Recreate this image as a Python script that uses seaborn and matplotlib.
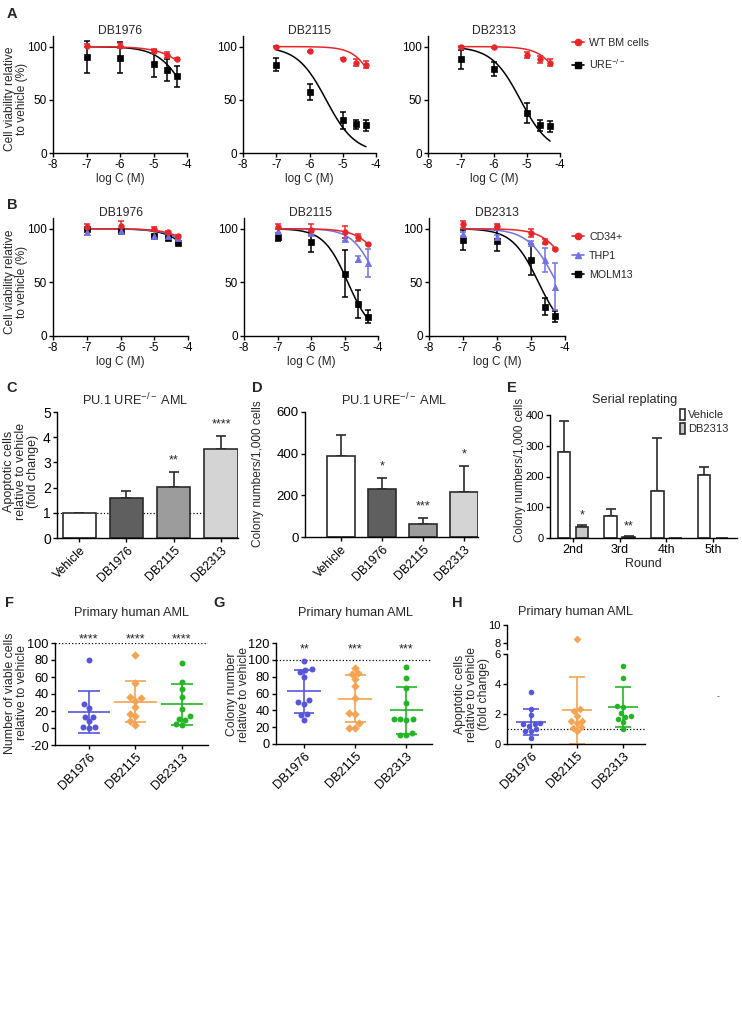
import numpy as np
import pandas as pd
import matplotlib
matplotlib.use("Agg")
import matplotlib.pyplot as plt
import seaborn as sns
from matplotlib.lines import Line2D

sns.set_theme(style="ticks")
plt.rcParams['font.family'] = ['Liberation Sans', 'DejaVu Sans']
plt.rcParams['mathtext.fontset'] = 'custom'
plt.rcParams['mathtext.rm'] = 'Liberation Sans'
plt.rcParams['mathtext.it'] = 'Liberation Sans:italic'
plt.rcParams['mathtext.bf'] = 'Liberation Sans:bold'
plt.rcParams['axes.unicode_minus'] = False
plt.rcParams['axes.linewidth'] = 1.0
plt.rcParams['axes.edgecolor'] = 'black'

# ---------------- data ----------------
log_c = [-7, -6, -5, -4.6, -4.3]
drugs = ["DB1976", "DB2115", "DB2313"]

# A: WT BM cells vs URE-/- (mean, error, fitted IC50 / hill slope)
a_wt_mean = [[101, 101, 96, 92, 88], [100, 95.5, 88.5, 85, 83], [100, 99.5, 92, 88, 85]]
a_wt_err = [[1.5, 2, 2, 2.5, 1], [0.5, 0.5, 0.5, 3, 3.5], [0.5, 0.5, 3, 3, 3.5]]
a_ure_mean = [[90, 89.5, 84, 78, 72], [83, 57.5, 31, 27, 26], [88, 79, 37.5, 26, 25]]
a_ure_err = [[15, 14.5, 13, 10, 10], [6, 7.5, 8, 4, 5], [9, 7, 9.5, 5, 5]]
a_wt_ic50 = [-3.4, -3.84, -3.7]
a_wt_hill = [0.9, 1.3, 1.2]
a_ure_ic50 = [-3.9, -5.5, -5.2]
a_ure_hill = [1.0, 1.0, 1.0]

# B: CD34+, THP1, MOLM13
b_cd34_mean = [[102, 103, 100, 97, 93], [102, 99, 97, 92, 85.5], [104, 103, 96, 88, 81]]
b_cd34_err = [[2, 4, 1.5, 1, 1], [2.5, 5, 5.5, 3, 1], [3, 1, 3.5, 2, 1]]
b_thp1_mean = [[97, 97.5, 93.5, 93, 91], [98, 96, 90, 72, 68], [95, 92, 87, 71, 46]]
b_thp1_err = [[3, 2, 1.5, 1, 1], [2, 2, 1.5, 3, 13], [2, 2, 1.5, 11, 22]]
b_molm_mean = [[100, 98, 93.5, 91, 87], [92.5, 87.5, 58, 30, 18], [89.5, 89, 71, 27.5, 18.5]]
b_molm_err = [[1, 1, 1, 1, 1], [3.5, 9.5, 22, 13, 6], [9.5, 10, 14.5, 7.5, 5]]
b_cd34_ic50 = [-3.2, -3.6, -3.7]
b_cd34_hill = [1.0, 1.1, 1.1]
b_thp1_ic50 = [-3.3, -4.0, -4.25]
b_thp1_hill = [1.0, 1.2, 1.05]
b_molm_ic50 = [-3.4, -4.9, -4.78]
b_molm_hill = [1.0, 1.2, 1.12]

# C / D: PU.1 URE-/- AML
bar_groups = ["Vehicle", "DB1976", "DB2115", "DB2313"]
c_mean = [1.0, 1.58, 2.02, 3.52]
c_err = [0.0, 0.27, 0.6, 0.53]
c_stars = ["", "", "**", "****"]
d_mean = [390, 232, 62, 215]
d_err = [100, 51, 30, 125]
d_stars = ["", "*", "***", "*"]

# E: serial replating
rounds = ["2nd", "3rd", "4th", "5th"]
e_vehicle = [280, 70, 153, 206]
e_vehicle_err = [100, 23, 172, 24]
e_db2313 = [35, 3, 0, 0]
e_db2313_err = [6, 2, 0, 0]
e_stars = ["*", "**", "", ""]

# F: viable cells (%)
f_db1976 = [80, 27.8, 23, 13, 13, 8, 1.2, 0.4, 1.2]
f_db2115 = [86, 53, 36, 35, 32, 25, 17, 14, 8, 4]
f_db2313 = [76, 54, 46, 36, 22, 14, 11, 10, 5, 4]
f_stars = ["****", "****", "****"]
# G: colony number (%)
g_db1976 = [99, 89, 88, 85, 80, 52, 50, 48, 36, 35, 29]
g_db2115 = [90, 84, 83, 77, 69, 55, 37, 36, 25, 19, 19]
g_db2313 = [92, 78, 66, 49, 30, 30, 30, 29, 13, 11, 11]
g_stars = ["**", "***", "***"]
# H: apoptotic cells (fold change)
h_db1976 = [3.47, 2.33, 1.93, 1.4, 1.35, 1.32, 1.23, 1.0, 0.9, 0.88, 0.4]
h_db2115 = [8.5, 2.33, 2.2, 1.87, 1.54, 1.54, 1.38, 1.12, 1.1, 0.84]
h_db2313 = [5.2, 4.42, 2.53, 2.48, 2.09, 1.87, 1.8, 1.67, 1.45, 1.0]

RED = "#E8262A"
LBLUE = "#7272E6"
BLUE = "#5656DC"
ORANGE = "#F4A452"
GREEN = "#23B523"
EDGE = "#2b2b2b"
bar_colors = ["white", "#5f5f5f", "#9c9c9c", "#d4d4d4"]

W, H = 742, 1030
fig = plt.figure(figsize=(W / 100, H / 100), dpi=100)


def px_ax(l, t, r, b, fs=8.5):
    ax = fig.add_axes([l / W, 1 - b / H, (r - l) / W, (b - t) / H])
    sns.despine(ax=ax)
    ax.tick_params(length=3, width=1, pad=1.5, colors="black", labelsize=fs)
    ax.set_facecolor("none")
    return ax


def ftext(x, y, s, **kw):
    kw.setdefault("ha", "center")
    kw.setdefault("va", "center")
    fig.text(x / W, 1 - y / H, s, **kw)


def hill_curve(ic50, hill):
    xs = np.linspace(log_c[0], log_c[-1], 120)
    return xs, 100 / (1 + 10 ** ((xs - ic50) * hill))


def dose_panel(ax, series, k):
    for color, marker, size, mean, err, ic50, hill in series:
        xs, ys = hill_curve(ic50[k], hill[k])
        sns.lineplot(x=xs, y=ys, color=color, lw=1.1, ax=ax)
        ax.errorbar(log_c, mean[k], yerr=err[k], fmt="none", ecolor=color,
                    capsize=2.3, elinewidth=1.1, capthick=1.1)
        sns.scatterplot(x=log_c, y=mean[k], color=color, marker=marker, s=size,
                        edgecolor=color, linewidth=0.5, ax=ax, zorder=4)
    ax.set_xlim(-8, -4)
    ax.set_ylim(0, 110)
    ax.set_xticks([-8, -7, -6, -5, -4])
    ax.set_yticks([0, 50, 100])
    ax.set_xlabel("log C (M)", fontsize=8.5, labelpad=1)
    ax.set_ylabel("")


# ---------------- A ----------------
a_boxes = [(53, 36, 187, 153), (243, 36, 376, 153), (428, 36, 560, 153)]
a_series = [("black", "s", 20, a_ure_mean, a_ure_err, a_ure_ic50, a_ure_hill),
            (RED, "o", 16, a_wt_mean, a_wt_err, a_wt_ic50, a_wt_hill)]
for k, box in enumerate(a_boxes):
    ax = px_ax(*box)
    dose_panel(ax, a_series, k)
    ftext((box[0] + box[2]) / 2, 31, drugs[k], fontsize=8.7)
ftext(16, 99, "Cell viability relative\nto vehicle (%)", rotation=90, fontsize=8.6, linespacing=1.1)
fig.legend(handles=[Line2D([], [], color=RED, marker="o", ms=4.5, lw=1.2),
                    Line2D([], [], color="black", marker="s", ms=4.5, lw=1.2)],
           labels=["WT BM cells", "URE$^{-/-}$"], loc="upper left",
           bbox_to_anchor=(572 / W, 1 - 38 / H), frameon=False, fontsize=7.7,
           handlelength=1.1, handletextpad=0.5, labelspacing=0.85, borderpad=0, borderaxespad=0)

# ---------------- B ----------------
b_boxes = [(53, 218, 188, 336), (244, 218, 378, 336), (429, 218, 565, 336)]
b_series = [("black", "s", 20, b_molm_mean, b_molm_err, b_molm_ic50, b_molm_hill),
            (LBLUE, "^", 20, b_thp1_mean, b_thp1_err, b_thp1_ic50, b_thp1_hill),
            (RED, "o", 16, b_cd34_mean, b_cd34_err, b_cd34_ic50, b_cd34_hill)]
for k, box in enumerate(b_boxes):
    ax = px_ax(*box)
    dose_panel(ax, b_series, k)
    ftext((box[0] + box[2]) / 2, 213, drugs[k], fontsize=8.7)
ftext(16, 282, "Cell viability relative\nto vehicle (%)", rotation=90, fontsize=8.6, linespacing=1.1)
fig.legend(handles=[Line2D([], [], color=RED, marker="o", ms=4.5, lw=1.2),
                    Line2D([], [], color=LBLUE, marker="^", ms=4.5, lw=1.2),
                    Line2D([], [], color="black", marker="s", ms=4.5, lw=1.2)],
           labels=["CD34+", "THP1", "MOLM13"], loc="upper left",
           bbox_to_anchor=(572 / W, 1 - 232 / H), frameon=False, fontsize=7.7,
           handlelength=1.1, handletextpad=0.5, labelspacing=0.85, borderpad=0, borderaxespad=0)


def bar_panel(ax, mean, err, stars):
    df = pd.DataFrame({"group": bar_groups, "value": mean})
    sns.barplot(data=df, x="group", y="value", hue="group", palette=bar_colors,
                edgecolor=EDGE, linewidth=1.2, width=0.7, legend=False, ax=ax, zorder=2)
    pos = np.arange(len(mean))
    ax.errorbar(pos, mean, yerr=[np.zeros(len(err)), err], fmt="none", ecolor=EDGE,
                capsize=3.5, elinewidth=1.2, capthick=1.2, zorder=1.5)
    for p, m, e, s in zip(pos, mean, err, stars):
        if s:
            ax.annotate(s, (p, m + e), xytext=(0, 4), textcoords="offset points",
                        ha="center", va="bottom", fontsize=9)
    ax.set_xlabel("")
    ax.set_ylabel("")
    ax.tick_params(axis="x", labelrotation=45, labelsize=8.8)
    for lab in ax.get_xticklabels():
        lab.set_ha("right")
        lab.set_rotation_mode("anchor")


# ---------------- C ----------------
ax = px_ax(57, 412, 238, 538, fs=10)
ax.axhline(1, ls=":", color="black", lw=0.9, zorder=0.5)
bar_panel(ax, c_mean, c_err, c_stars)
ax.set_ylim(0, 5)
ax.set_yticks([0, 1, 2, 3, 4, 5])
ax.set_xlim(-0.47, 3.36)
ftext(135, 400, "PU.1 URE$^{-/-}$ AML", fontsize=9.2)
ftext(21, 471, "Apoptotic cells\nrelative to vehicle\n(fold change)", rotation=90, fontsize=9, linespacing=1.0)

# ---------------- D ----------------
ax = px_ax(305, 412, 478, 537, fs=9.5)
bar_panel(ax, d_mean, d_err, d_stars)
ax.set_ylim(0, 600)
ax.set_yticks([0, 200, 400, 600])
ax.set_xlim(-0.88, 3.34)
ftext(394, 400, "PU.1 URE$^{-/-}$ AML", fontsize=9.2)
ftext(258, 474, "Colony numbers/1,000 cells", rotation=90, fontsize=8.6)

# ---------------- E ----------------
ax = px_ax(550, 415, 737, 538, fs=8)
e_df = pd.DataFrame({"round": rounds * 2,
                     "treatment": ["Vehicle"] * len(rounds) + ["DB2313"] * len(rounds),
                     "value": e_vehicle + e_db2313})
sns.barplot(data=e_df, x="round", y="value", hue="treatment", palette=["white", "#c8c8c8"],
            edgecolor=EDGE, linewidth=1.2, width=0.77, gap=0.3, ax=ax, zorder=2)
for cont, errs in zip(ax.containers[:2], [e_vehicle_err, e_db2313_err]):
    xs = [b.get_x() + b.get_width() / 2 for b in cont]
    hs = [b.get_height() for b in cont]
    keep = [i for i, e in enumerate(errs) if e > 0]
    ax.errorbar([xs[i] for i in keep], [hs[i] for i in keep],
                yerr=[[0] * len(keep), [errs[i] for i in keep]], fmt="none", ecolor=EDGE,
                capsize=3.5, elinewidth=1.2, capthick=1.2, zorder=1.5)
xs_db = [b.get_x() + b.get_width() / 2 for b in ax.containers[1]]
for x, m, e, s in zip(xs_db, e_db2313, e_db2313_err, e_stars):
    if s:
        ax.annotate(s, (x, m + e), xytext=(0, 3), textcoords="offset points",
                    ha="center", va="bottom", fontsize=9)
ax.set_ylim(0, 400)
ax.set_yticks([0, 100, 200, 300, 400])
ax.set_xlim(-0.49, 3.51)
ax.set_ylabel("")
ax.set_xlabel("Round", fontsize=9, labelpad=1)
ax.tick_params(axis="x", labelsize=9)
ax.legend(loc="upper left", bbox_to_anchor=((680 - 550) / 187, 1 + (415 - 409) / 123),
          frameon=False, fontsize=8, handlelength=0.45, handleheight=1.1,
          handletextpad=0.3, labelspacing=0.25, borderpad=0, borderaxespad=0)
ftext(635, 400, "Serial replating", fontsize=9.2)
ftext(520, 470, "Colony numbers/1,000 cells", rotation=90, fontsize=8.4)


def dot_panel(ax, groups, mean_half, cap_half, size):
    for i, (vals, color, marker) in enumerate(groups):
        sns.swarmplot(x=[drugs[i]] * len(vals), y=vals, order=drugs, color=color,
                      marker=marker, size=size, linewidth=0, ax=ax, zorder=3)
        m, s = np.mean(vals), np.std(vals, ddof=1)
        ax.hlines(m, i - mean_half, i + mean_half, color=color, lw=1.2, zorder=2)
        ax.vlines(i, m - s, m + s, color=color, lw=1.2, zorder=2)
        ax.hlines([m - s, m + s], i - cap_half, i + cap_half, color=color, lw=1.2, zorder=2)
    ax.set_xlabel("")
    ax.set_ylabel("")
    ax.tick_params(axis="x", labelrotation=45, labelsize=9.2)
    for lab in ax.get_xticklabels():
        lab.set_ha("right")
        lab.set_rotation_mode("anchor")


# ---------------- F ----------------
ax = px_ax(55, 643, 208, 745, fs=9.2)
ax.axhline(100, ls=":", color="black", lw=0.9, zorder=1)
dot_panel(ax, [(f_db1976, BLUE, "o"), (f_db2115, ORANGE, "D"), (f_db2313, GREEN, "o")], 0.46, 0.23, 4.3)
ax.set_ylim(-20, 100)
ax.set_yticks(np.arange(-20, 101, 20))
ax.set_xlim(-0.73, 2.56)
for i, s in enumerate(f_stars):
    ax.text(i, 101, s, ha="center", va="baseline", fontsize=9, clip_on=False)
ftext(132, 613, "Primary human AML", fontsize=9.2)
ftext(16, 693, "Number of viable cells\nrelative to vehicle", rotation=90, fontsize=8.8, linespacing=1.05)

# ---------------- G ----------------
ax = px_ax(276, 643, 432, 744, fs=9.2)
ax.axhline(100, ls=":", color="black", lw=0.9, zorder=1)
dot_panel(ax, [(g_db1976, BLUE, "o"), (g_db2115, ORANGE, "D"), (g_db2313, GREEN, "o")], 0.33, 0.2, 4.3)
ax.set_ylim(0, 120)
ax.set_yticks(np.arange(0, 121, 20))
ax.set_xlim(-0.55, 2.5)
for i, s in enumerate(g_stars):
    ax.text(i, 109, s, ha="center", va="baseline", fontsize=9, clip_on=False)
ftext(356, 613, "Primary human AML", fontsize=9.2)
ftext(238, 694, "Colony number\nrelative to vehicle", rotation=90, fontsize=8.8, linespacing=1.05)

# ---------------- H (broken axis) ----------------
h_groups = [(h_db1976, BLUE, "o"), (h_db2115, ORANGE, "D"), (h_db2313, GREEN, "o")]
ax_lo = px_ax(507, 654, 645, 744, fs=8)
ax_lo.axhline(1, ls=":", color="black", lw=0.9, zorder=1)
dot_panel(ax_lo, h_groups, 0.33, 0.18, 4.0)
ax_lo.set_ylim(0, 6)
ax_lo.set_yticks([0, 2, 4, 6])
ax_lo.set_xlim(-0.52, 2.48)

ax_hi = px_ax(507, 625, 645, 649, fs=8)
for i, (vals, color, marker) in enumerate(h_groups):
    sns.swarmplot(x=[drugs[i]] * len(vals), y=vals, order=drugs, color=color,
                  marker=marker, size=4.0, linewidth=0, ax=ax_hi, zorder=3)
ax_hi.set_ylim(7.4, 10)
ax_hi.set_yticks([8, 10])
ax_hi.set_xlim(-0.52, 2.48)
ax_hi.spines["bottom"].set_visible(False)
ax_hi.tick_params(axis="x", bottom=False, labelbottom=False)
ax_hi.set_xlabel("")
ax_hi.set_ylabel("")
ftext(575, 612, "Primary human AML", fontsize=9.2)
ftext(472, 694, "Apoptotic cells\nrelative to vehicle\n(fold change)", rotation=90, fontsize=8.8, linespacing=1.0)
ftext(718, 697, "-", fontsize=6)

# ---------------- panel letters ----------------
for lx, ly, letter in [(12, 14, "A"), (12, 205, "B"), (12, 388, "C"), (257, 388, "D"),
                       (512, 388, "E"), (9, 603, "F"), (219, 603, "G"), (457, 603, "H")]:
    ftext(lx, ly, letter, fontsize=10.5, fontweight="bold")

fig.savefig("out.png", dpi=100)
